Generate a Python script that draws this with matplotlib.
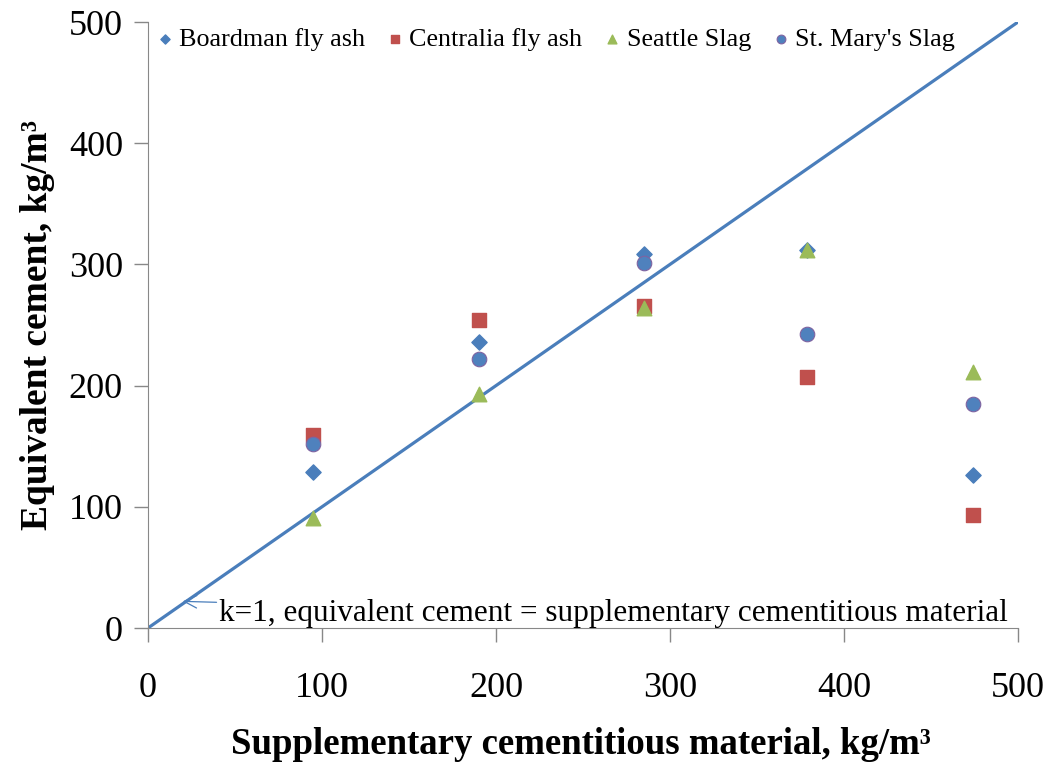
import numpy as np
import matplotlib
matplotlib.use("Agg")
import matplotlib.pyplot as plt

plt.rcParams['font.family'] = ['Liberation Serif', 'DejaVu Serif']

# --- data ---
scm = [95, 190, 285, 379, 474]
boardman = [129, 236, 309, 312, 126]
centralia = [159, 254, 266, 207, 93]
seattle = [91, 193, 264, 312, 211]
st_marys = [152, 222, 301, 243, 185]
ticks = [0, 100, 200, 300, 400, 500]

fig = plt.figure(figsize=(10.51, 7.67), dpi=100)
ax = fig.add_axes([0.1408, 0.1812, 0.8278, 0.7901])

# k=1 line
ax.plot([0, 500], [0, 500], color='#4a7ebb', lw=2.3, zorder=2)

ax.scatter(scm, boardman, marker='D', s=60, color='#4a7ebb', label='Boardman fly ash', zorder=3)
ax.scatter(scm, centralia, marker='s', s=90, color='#c0504d', label='Centralia fly ash', zorder=3)
ax.scatter(scm, seattle, marker='^', s=110, color='#9bbb59', label='Seattle Slag', zorder=4)
ax.scatter(scm, st_marys, marker='o', s=110, color='#4f81bd', edgecolor='#7f63a1',
           linewidth=0.8, label="St. Mary's Slag", zorder=3)

ax.annotate('k=1, equivalent cement = supplementary cementitious material',
            xy=(20, 22), xytext=(41, 12), fontsize=22.5, va='center', ha='left',
            arrowprops=dict(arrowstyle='->', color='#4a7ebb', lw=0.9, shrinkA=0, shrinkB=0))

ax.set_xlim(0, 500)
ax.set_ylim(0, 500)
ax.set_xticks(ticks)
ax.set_yticks(ticks)
ax.tick_params(labelsize=26, length=10, width=1, color='#888888', direction='out')
ax.tick_params(axis='x', pad=22)
ax.tick_params(axis='y', pad=8)
for side in ['top', 'right']:
    ax.spines[side].set_visible(False)
for side in ['left', 'bottom']:
    ax.spines[side].set_color('#888888')

# x label placed directly in figure coords
fig.text(0.553, 1 - 744 / 767, 'Supplementary cementitious material, kg/m³',
         fontsize=26.5, fontweight='bold', ha='center', va='center')
ax.set_ylabel('Equivalent cement, kg/m³',
              fontsize=27, fontweight='bold', labelpad=10)

leg = ax.legend(loc='upper center', bbox_to_anchor=(0.466, 1.008), ncol=4, frameon=False,
                fontsize=18.8, handletextpad=0.05, columnspacing=0.65, markerscale=0.6,
                handlelength=1.0, borderaxespad=0)

fig.savefig('out.png', dpi=100)
